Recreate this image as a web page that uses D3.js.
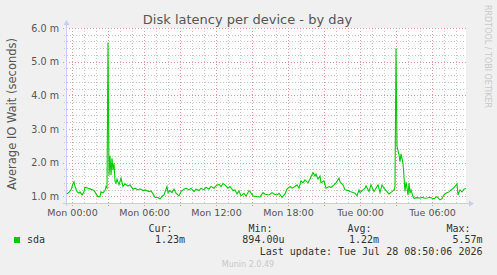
<!DOCTYPE html>
<html><head><meta charset="utf-8">
<script src="https://cdn.jsdelivr.net/npm/d3@7"></script>
<style>
html,body{margin:0;padding:0;background:#f0f0f0;}
svg{display:block;}
</style></head>
<body>
<svg id="chart" width="497" height="275"></svg>
<script>
// minutes relative to Mon 00:00
const minutes = [-25,-15,-5,5,10,15,25,35,40,50,60,65,80,90,105,115,120,130,140,145,155,165,170,175,180,185,190,195,200,205,210,215,220,225,235,245,255,265,280,290,305,315,330,340,355,365,385,395,405,415,430,440,450,460,475,480,490,500,510,520,535,545,560,570,585,595,610,620,635,645,660,670,685,695,710,720,735,745,755,765,780,790,805,815,825,835,845,860,870,885,890,905,925,940,955,965,985,1000,1010,1025,1035,1050,1065,1075,1090,1100,1115,1125,1135,1145,1155,1165,1180,1190,1205,1215,1220,1230,1240,1245,1260,1270,1285,1295,1310,1320,1335,1340,1355,1365,1380,1390,1405,1415,1425,1435,1440,1455,1465,1470,1485,1495,1510,1520,1530,1540,1550,1560,1575,1585,1600,1610,1615,1620,1625,1635,1640,1645,1655,1660,1665,1670,1680,1685,1690,1695,1705,1710,1725,1740,1750,1765,1775,1790,1800,1810,1825,1840,1850,1860,1870,1885,1895,1905,1915,1925,1930,1940,1950,1960,1970];
// sda average IO wait, in milliseconds
const sdaWait = [1.07,1.12,1.19,1.37,1.43,1.29,1.14,1.09,1.13,1.04,1.13,1.27,1.24,1.22,1.19,1.13,1.07,0.99,0.99,1.13,1.10,1.17,1.29,1.25,5.57,1.62,2.20,1.63,2.13,1.78,1.98,1.45,1.39,1.51,1.34,1.54,1.29,1.37,1.30,1.34,1.21,1.24,1.19,1.22,1.17,1.19,1.14,1.16,1.07,0.97,0.96,0.92,1.00,1.04,1.29,1.11,1.17,1.11,1.21,1.09,1.01,1.14,1.21,1.24,1.19,1.24,1.14,1.21,1.17,1.24,1.19,1.27,1.21,1.29,1.24,1.31,1.36,1.29,1.38,1.34,1.24,1.29,1.17,1.19,1.07,1.16,1.01,1.09,1.00,1.17,1.14,1.01,0.99,0.98,1.11,1.06,1.04,1.11,1.07,1.04,1.09,0.97,1.07,1.21,1.29,1.24,1.29,1.34,1.24,1.46,1.40,1.49,1.40,1.51,1.70,1.60,1.66,1.51,1.60,1.40,1.46,1.24,1.29,1.26,1.34,1.40,1.54,1.43,1.34,1.19,1.17,1.14,1.11,1.09,1.01,1.19,1.11,1.19,1.24,1.31,1.14,1.34,1.14,1.24,1.34,1.11,1.34,1.24,1.14,1.07,1.14,1.19,1.29,5.40,2.48,2.23,2.03,2.26,1.98,1.58,1.14,1.43,1.04,1.39,1.09,1.19,0.99,0.94,0.96,0.94,0.97,0.94,0.95,0.97,0.94,0.93,0.99,0.894,0.93,1.04,1.09,1.13,1.19,1.23,1.29,1.37,1.04,1.19,1.13,1.21,1.23];
const yTicks = [1,2,3,4,5,6];
const yTickLabels = ["1.0 m","2.0 m","3.0 m","4.0 m","5.0 m","6.0 m"];
const xTicks = [0,360,720,1080,1440,1800];
const xTickLabels = ["Mon 00:00","Mon 06:00","Mon 12:00","Mon 18:00","Tue 00:00","Tue 06:00"];
const legendHeaders = ["Cur:","Min:","Avg:","Max:"];
const legendValues = ["1.23m","894.00u","1.22m","5.57m"];

const svg = d3.select("#chart");
const L = 66, R = 466, T = 28, B = 203;
const x = d3.scaleLinear().domain([-30,1970]).range([L,R]);
const y = d3.scaleLinear().domain([0.8,6.0]).range([B,T]);

svg.append("rect").attr("width",497).attr("height",275).attr("fill","#f0f0f0");
svg.append("rect").attr("x",L).attr("y",T).attr("width",R-L).attr("height",B-T).attr("fill","#ffffff");

const grid = svg.append("g").attr("shape-rendering","crispEdges");
// minor horizontal grid every 0.2 (inside the value range only)
const minorY = d3.range(1,26).map(i=>0.8+i*0.2).filter(v=>v<5.99 && Math.abs(v-Math.round(v))>1e-6);
grid.selectAll(".hm").data(minorY).enter().append("line")
  .attr("x1",L-2).attr("x2",R).attr("y1",d=>Math.round(y(d))+0.5).attr("y2",d=>Math.round(y(d))+0.5)
  .attr("stroke","#c8c8c8").attr("stroke-dasharray","1,2");
// minor vertical grid every hour
const minorX = d3.range(0,1980,60).filter(m=>m%180!==0);
grid.selectAll(".vm").data(minorX).enter().append("line")
  .attr("y1",T).attr("y2",B+2).attr("x1",d=>Math.round(x(d))+0.5).attr("x2",d=>Math.round(x(d))+0.5)
  .attr("stroke","#c8c8c8").attr("stroke-dasharray","1,2");
// major grid
grid.selectAll(".hM").data(yTicks).enter().append("line")
  .attr("x1",L-3).attr("x2",R).attr("y1",d=>Math.round(y(d))+0.5).attr("y2",d=>Math.round(y(d))+0.5)
  .attr("stroke","#e09a9a").attr("stroke-dasharray","1,2");
const majorX = d3.range(0,1980,180);
grid.selectAll(".vM").data(majorX).enter().append("line")
  .attr("y1",T).attr("y2",B+3).attr("x1",d=>Math.round(x(d))+0.5).attr("x2",d=>Math.round(x(d))+0.5)
  .attr("stroke","#e09a9a").attr("stroke-dasharray","1,2");

// axes lines with arrows
const axisCol = "#c6ccf4";
svg.append("line").attr("x1",L+0.5).attr("x2",L+0.5).attr("y1",B+3).attr("y2",T-4).attr("stroke",axisCol);
svg.append("path").attr("d",`M${L-2.5},${T-3}L${L+3.5},${T-3}L${L+0.5},${T-8}Z`).attr("fill",axisCol);
svg.append("line").attr("x1",L-3).attr("x2",R+4).attr("y1",B+0.5).attr("y2",B+0.5).attr("stroke",axisCol);
svg.append("path").attr("d",`M${R+3},${B-2.5}L${R+3},${B+3.5}L${R+8},${B+0.5}Z`).attr("fill",axisCol);

// data line
svg.append("path")
  .attr("d", d3.line().x((d,i)=>x(minutes[i])).y(d=>y(d))(sdaWait))
  .attr("fill","none").attr("stroke","#00cc00").attr("stroke-width",1.1);

// tick labels via d3 axes
const yAx = svg.append("g").attr("transform",`translate(${L},0)`)
  .call(d3.axisLeft(y).tickValues(yTicks).tickFormat((d,i)=>yTickLabels[i]).tickSize(0).tickPadding(7));
yAx.select(".domain").remove();
yAx.selectAll("text").attr("font-family","DejaVu Sans").attr("font-size",9.6).attr("fill","#555");
const xAx = svg.append("g").attr("transform",`translate(0,${B})`)
  .call(d3.axisBottom(x).tickValues(xTicks).tickFormat((d,i)=>xTickLabels[i]).tickSize(0).tickPadding(6));
xAx.select(".domain").remove();
xAx.selectAll("text").attr("font-family","DejaVu Sans").attr("font-size",9.5).attr("fill","#555");

// title
svg.append("text").attr("x",247.5).attr("y",24).attr("text-anchor","middle")
  .attr("font-family","DejaVu Sans").attr("font-size",13).attr("fill","#555")
  .text("Disk latency per device - by day");
// y label
svg.append("text").attr("transform","translate(15.5,114) rotate(-90)").attr("text-anchor","middle")
  .attr("font-family","DejaVu Sans").attr("font-size",11.5).attr("fill","#555")
  .text("Average IO Wait (seconds)");
// watermark
svg.append("text").attr("transform","translate(485,5) rotate(90)")
  .attr("font-family","DejaVu Sans").attr("font-size",8).attr("fill","#c8c8c8")
  .text("RRDTOOL / TOBI OETIKER");

// legend
const mono = "DejaVu Sans Mono";
svg.append("rect").attr("x",14).attr("y",237).attr("width",6).attr("height",6).attr("fill","#00cc00");
svg.append("text").attr("x",27).attr("y",242.5).attr("font-family",mono).attr("font-size",10).attr("fill","#333").text("sda");
const headX = [172.5,272.5,371.5,470.5];
const valX = [185,284.5,379,482.5];
svg.selectAll(".lh").data(legendHeaders).enter().append("text")
  .attr("x",(d,i)=>headX[i]).attr("y",231.5).attr("text-anchor","end")
  .attr("font-family",mono).attr("font-size",10).attr("fill","#333").text(d=>d);
svg.selectAll(".lv").data(legendValues).enter().append("text")
  .attr("x",(d,i)=>valX[i]).attr("y",242.5).attr("text-anchor","end")
  .attr("font-family",mono).attr("font-size",10).attr("fill","#333").text(d=>d);
svg.append("text").attr("x",482.5).attr("y",254.5).attr("text-anchor","end")
  .attr("font-family",mono).attr("font-size",10).attr("fill","#333")
  .text("Last update: Tue Jul 28 08:50:06 2026");
svg.append("text").attr("x",248).attr("y",267).attr("text-anchor","middle")
  .attr("font-family","DejaVu Sans").attr("font-size",8).attr("fill","#c8c8c8")
  .text("Munin 2.0.49");
</script>
</body></html>
